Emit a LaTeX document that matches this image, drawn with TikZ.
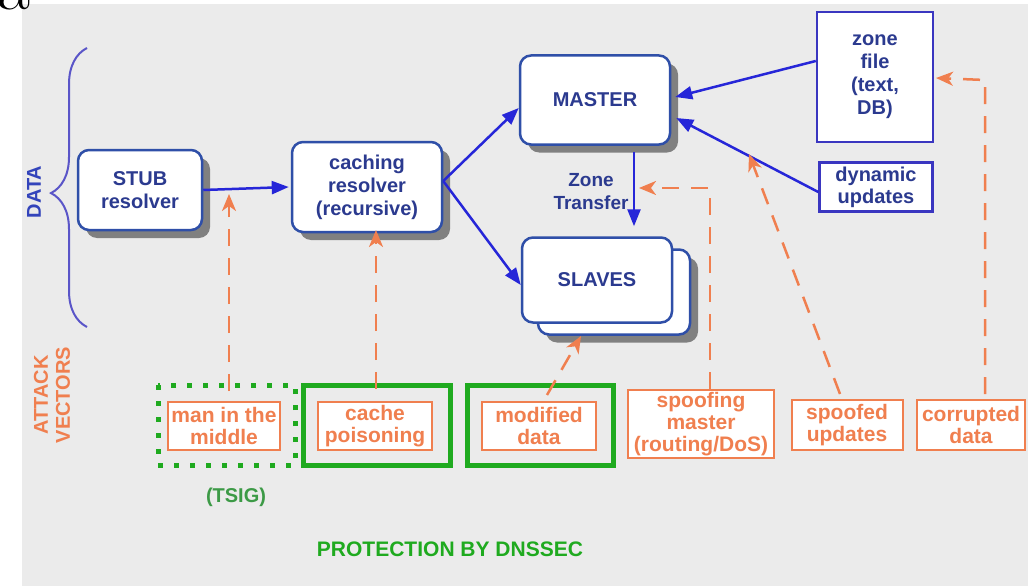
\documentclass[tikz,border=0pt]{standalone}
\usepackage{fontspec}
\setsansfont{Liberation Sans}
\usetikzlibrary{arrows.meta,decorations.pathreplacing,shadows}
\definecolor{bgc}{HTML}{EBEBEB}
\definecolor{navy}{HTML}{2B3A8F}
\definecolor{boxblue}{HTML}{2F4FA8}
\definecolor{arrblue}{HTML}{2626D8}
\definecolor{zoneblue}{HTML}{3A36C0}
\definecolor{braceblue}{HTML}{5A55C8}
\definecolor{datablue}{HTML}{3344BB}
\definecolor{orng}{HTML}{F07F4F}
\definecolor{grn}{HTML}{1FAA1F}
\definecolor{tsig}{HTML}{3C9A46}
\begin{document}
\begin{tikzpicture}[x=1pt,y=-1pt,
  rbox/.style={draw=boxblue, line width=2.5pt, fill=white, rounded corners=11pt,
    font=\sffamily\bfseries\fontsize{20}{23}\selectfont, text=navy, align=center, inner sep=2pt},
  shad/.style={drop shadow={shadow xshift=8pt, shadow yshift=-8pt, fill=black!50, opacity=1}},
  sbox/.style={draw=zoneblue, line width=2.5pt, fill=white,
    font=\sffamily\bfseries\fontsize{20}{23}\selectfont, text=navy, align=center, inner sep=2pt},
  abox/.style={draw=orng, line width=2pt, fill=white,
    font=\sffamily\bfseries\fontsize{21}{22}\selectfont, text=orng, align=center, inner sep=1pt},
  gbox/.style={draw=grn, line width=5pt},
  gdot/.style={draw=grn, line width=5pt, dash pattern=on 5pt off 11pt},
  barr/.style={draw=arrblue, line width=2.5pt, -{Triangle[length=17pt,width=13pt]}},
  oarr/.style={draw=orng, line width=2.5pt, dash pattern=on 17pt off 12pt,
    -{Stealth[length=17pt,width=14pt,inset=5pt]}},
  lbl/.style={font=\sffamily\bfseries\fontsize{20}{22}\selectfont}
]
\useasboundingbox (0,0) rectangle (1028,586);
\fill[bgc] (22,4) rectangle (1028,586);
\node[anchor=base west, inner sep=0pt, font=\fontsize{72}{72}\selectfont] (alet) at (-3,10) {a};

% labels on the left
\node[lbl, text=datablue, rotate=90] (data) at (34,192) {DATA};
\draw[braceblue, line width=2pt, decorate, decoration={brace, amplitude=36pt, aspect=0.48}]
  (87,327) -- (87,48);
\node[lbl, text=orng, rotate=90, align=center] (attack) at (52,395) {ATTACK\\VECTORS};

% main boxes
\node[rbox, shad, minimum width=124pt, minimum height=80pt] (stub) at (140,190) {STUB\\resolver};
\node[rbox, shad, minimum width=150pt, minimum height=90pt] (cache) at (367,187) {caching\\resolver\\(recursive)};
\node[rbox, shad, minimum width=150pt, minimum height=89pt] (master) at (595,100) {MASTER};
\node[rbox, shad, minimum width=152pt, minimum height=85pt] (slaveb) at (614,292) {};
\node[rbox, minimum width=150pt, minimum height=85pt] (slaves) at (597,280) {SLAVES};
\node[sbox, minimum width=116pt, minimum height=130pt] (zone) at (875,77) {zone\\file\\(text,\\DB)};
\node[sbox, minimum width=113pt, minimum height=49pt, font=\sffamily\bfseries\fontsize{20}{22}\selectfont] (dyn) at (876,187) {dynamic\\updates};
\node[font=\sffamily\bfseries\fontsize{19}{23}\selectfont, text=navy, align=center] (zt) at (591,192) {Zone\\Transfer};

% green protection boxes
\draw[gdot] (158,385) rectangle (295,465);
\draw[gbox] (303,385) rectangle (450,465);
\draw[gbox] (467,385) rectangle (613,465);

% attack boxes
\node[abox, minimum width=112pt, minimum height=48pt] (mitm) at (224,426) {man in the\\middle};
\node[abox, minimum width=114pt, minimum height=48pt] (poison) at (375,426) {cache\\poisoning};
\node[abox, minimum width=114pt, minimum height=48pt] (modif) at (539,426) {modified\\data};
\node[abox, minimum width=146pt, minimum height=68pt] (spoofm) at (701,424) {spoofing\\master\\(routing/DoS)};
\node[abox, minimum width=111pt, minimum height=50pt] (spoofu) at (847,425) {spoofed\\updates};
\node[abox, minimum width=108pt, minimum height=50pt] (corr) at (971,425) {corrupted\\data};

\node[lbl, text=tsig] (tsigl) at (236,497) {(TSIG)};
\node[lbl, text=grn, font=\sffamily\bfseries\fontsize{21}{23}\selectfont] (prot) at (450,549) {PROTECTION BY DNSSEC};

% blue data flow arrows
\draw[barr] (stub.east) -- ([xshift=-2pt]cache.west);
\draw[barr] ([yshift=6pt]cache.east) -- ([yshift=-8pt]master.west);
\draw[barr] ([yshift=6pt]cache.east) -- ([yshift=-5pt]slaves.west);
\draw[barr] ([yshift=16pt]zone.west) -- ([xshift=4pt,yshift=3pt]master.east);
\draw[barr] ([yshift=-5pt]dyn.west) -- ([xshift=5pt,yshift=-18pt]master.east);
\draw[barr] ([xshift=39pt,yshift=-6pt]master.south) -- ([xshift=37pt,yshift=10pt]slaves.north);

% attack vector arrows
\coordinate (mitmend) at (229,194);
\coordinate (poisend) at (376,230);
\coordinate (modend) at (581,336);
\coordinate (smcorner) at (710,188);
\coordinate (smend) at (639,188);
\coordinate (suend) at (749,154);
\coordinate (cdcorner) at (985,80);
\coordinate (cdend) at (936,78);
\draw[oarr] ([xshift=5pt,yshift=10pt]mitm.north) -- (mitmend);
\draw[oarr] ([xshift=1pt,yshift=12pt]poison.north) -- (poisend);
\draw[oarr] ([xshift=8pt,yshift=6pt]modif.north) -- (modend);
\draw[oarr] ([xshift=9pt]spoofm.north) -- (smcorner) -- (smend);
\draw[oarr] ([xshift=-7pt,yshift=5pt]spoofu.north) -- (suend);
\draw[oarr] ([xshift=14pt,yshift=5pt]corr.north) -- (cdcorner) -- (cdend);
\end{tikzpicture}
\end{document}
